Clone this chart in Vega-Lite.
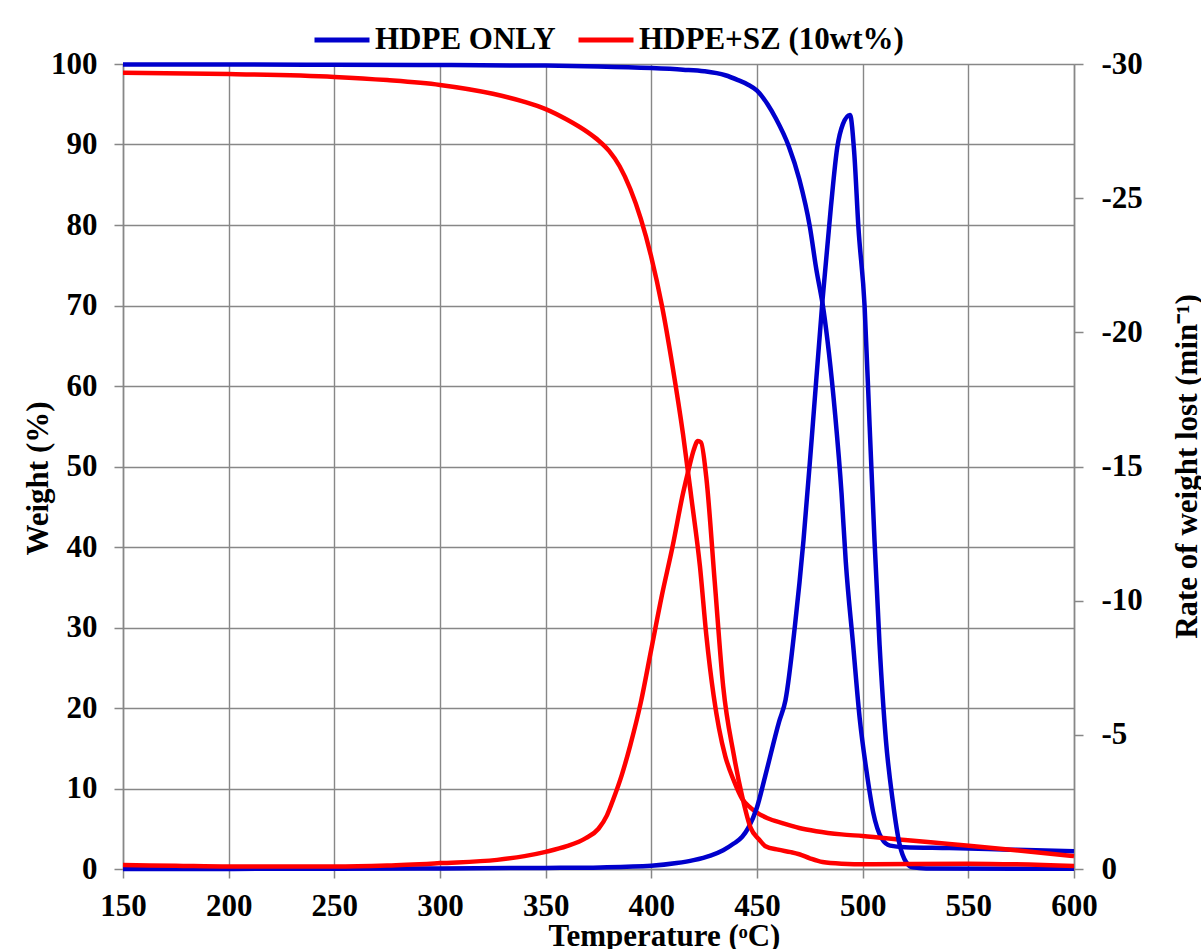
{
  "$schema": "https://vega.github.io/schema/vega-lite/v6.json",
  "width": 951,
  "height": 805,
  "autosize": "none",
  "padding": {"left": 123, "top": 64, "right": 127, "bottom": 80},
  "background": "white",
  "config": {
    "view": {"stroke": null},
    "font": "Liberation Serif",
    "axis": {
      "labelFont": "Liberation Serif", "labelFontWeight": "bold", "labelFontSize": 31, "labelColor": "#000000",
      "titleFont": "Liberation Serif", "titleFontWeight": "bold", "titleFontSize": 31, "titleColor": "#000000",
      "domainColor": "#878787", "domainWidth": 1.5, "tickColor": "#878787", "tickWidth": 1.5, "tickSize": 9,
      "gridColor": "#878787", "gridWidth": 1.4, "gridOpacity": 1
    }
  },
  "datasets": {
    "curves": [
      {"series": "HDPE ONLY", "curve": "weight", "T": 150, "v": 99.95},
      {"series": "HDPE ONLY", "curve": "weight", "T": 200, "v": 99.93},
      {"series": "HDPE ONLY", "curve": "weight", "T": 250, "v": 99.9},
      {"series": "HDPE ONLY", "curve": "weight", "T": 300, "v": 99.87},
      {"series": "HDPE ONLY", "curve": "weight", "T": 350, "v": 99.8},
      {"series": "HDPE ONLY", "curve": "weight", "T": 375, "v": 99.7},
      {"series": "HDPE ONLY", "curve": "weight", "T": 400, "v": 99.5},
      {"series": "HDPE ONLY", "curve": "weight", "T": 415, "v": 99.3},
      {"series": "HDPE ONLY", "curve": "weight", "T": 425, "v": 99.1},
      {"series": "HDPE ONLY", "curve": "weight", "T": 435, "v": 98.6},
      {"series": "HDPE ONLY", "curve": "weight", "T": 441, "v": 98.0},
      {"series": "HDPE ONLY", "curve": "weight", "T": 446, "v": 97.4},
      {"series": "HDPE ONLY", "curve": "weight", "T": 450, "v": 96.7},
      {"series": "HDPE ONLY", "curve": "weight", "T": 455, "v": 95.0},
      {"series": "HDPE ONLY", "curve": "weight", "T": 459, "v": 93.2},
      {"series": "HDPE ONLY", "curve": "weight", "T": 465, "v": 89.8},
      {"series": "HDPE ONLY", "curve": "weight", "T": 470, "v": 85.7},
      {"series": "HDPE ONLY", "curve": "weight", "T": 475, "v": 79.8},
      {"series": "HDPE ONLY", "curve": "weight", "T": 478, "v": 74.6},
      {"series": "HDPE ONLY", "curve": "weight", "T": 481.5, "v": 69.4},
      {"series": "HDPE ONLY", "curve": "weight", "T": 484, "v": 64.2},
      {"series": "HDPE ONLY", "curve": "weight", "T": 487, "v": 56.4},
      {"series": "HDPE ONLY", "curve": "weight", "T": 490, "v": 46.7},
      {"series": "HDPE ONLY", "curve": "weight", "T": 492, "v": 38.2},
      {"series": "HDPE ONLY", "curve": "weight", "T": 495.5, "v": 27.8},
      {"series": "HDPE ONLY", "curve": "weight", "T": 498.6, "v": 18.7},
      {"series": "HDPE ONLY", "curve": "weight", "T": 501.8, "v": 12.2},
      {"series": "HDPE ONLY", "curve": "weight", "T": 505, "v": 7.0},
      {"series": "HDPE ONLY", "curve": "weight", "T": 509, "v": 3.8},
      {"series": "HDPE ONLY", "curve": "weight", "T": 513, "v": 2.9},
      {"series": "HDPE ONLY", "curve": "weight", "T": 520, "v": 2.7},
      {"series": "HDPE ONLY", "curve": "weight", "T": 541, "v": 2.6},
      {"series": "HDPE ONLY", "curve": "weight", "T": 570, "v": 2.4},
      {"series": "HDPE ONLY", "curve": "weight", "T": 600, "v": 2.2},

      {"series": "HDPE ONLY", "curve": "rate", "T": 150, "v": 0},
      {"series": "HDPE ONLY", "curve": "rate", "T": 250, "v": -0.01},
      {"series": "HDPE ONLY", "curve": "rate", "T": 300, "v": -0.02},
      {"series": "HDPE ONLY", "curve": "rate", "T": 350, "v": -0.04},
      {"series": "HDPE ONLY", "curve": "rate", "T": 376, "v": -0.06},
      {"series": "HDPE ONLY", "curve": "rate", "T": 400, "v": -0.12},
      {"series": "HDPE ONLY", "curve": "rate", "T": 412, "v": -0.22},
      {"series": "HDPE ONLY", "curve": "rate", "T": 420, "v": -0.33},
      {"series": "HDPE ONLY", "curve": "rate", "T": 428, "v": -0.5},
      {"series": "HDPE ONLY", "curve": "rate", "T": 434, "v": -0.7},
      {"series": "HDPE ONLY", "curve": "rate", "T": 439, "v": -0.95},
      {"series": "HDPE ONLY", "curve": "rate", "T": 443, "v": -1.2},
      {"series": "HDPE ONLY", "curve": "rate", "T": 446, "v": -1.55},
      {"series": "HDPE ONLY", "curve": "rate", "T": 450, "v": -2.3},
      {"series": "HDPE ONLY", "curve": "rate", "T": 454, "v": -3.5},
      {"series": "HDPE ONLY", "curve": "rate", "T": 460.5, "v": -5.5},
      {"series": "HDPE ONLY", "curve": "rate", "T": 463.5, "v": -6.3},
      {"series": "HDPE ONLY", "curve": "rate", "T": 468, "v": -9.1},
      {"series": "HDPE ONLY", "curve": "rate", "T": 472, "v": -12.25},
      {"series": "HDPE ONLY", "curve": "rate", "T": 476, "v": -16.15},
      {"series": "HDPE ONLY", "curve": "rate", "T": 481, "v": -21.2},
      {"series": "HDPE ONLY", "curve": "rate", "T": 485, "v": -24.7},
      {"series": "HDPE ONLY", "curve": "rate", "T": 488, "v": -26.9},
      {"series": "HDPE ONLY", "curve": "rate", "T": 490.6, "v": -27.75},
      {"series": "HDPE ONLY", "curve": "rate", "T": 494, "v": -28.1},
      {"series": "HDPE ONLY", "curve": "rate", "T": 496, "v": -26.7},
      {"series": "HDPE ONLY", "curve": "rate", "T": 498, "v": -23.9},
      {"series": "HDPE ONLY", "curve": "rate", "T": 500.9, "v": -21.0},
      {"series": "HDPE ONLY", "curve": "rate", "T": 503.3, "v": -16.5},
      {"series": "HDPE ONLY", "curve": "rate", "T": 505.6, "v": -12.25},
      {"series": "HDPE ONLY", "curve": "rate", "T": 508, "v": -8.35},
      {"series": "HDPE ONLY", "curve": "rate", "T": 511, "v": -4.8},
      {"series": "HDPE ONLY", "curve": "rate", "T": 514.3, "v": -2.5},
      {"series": "HDPE ONLY", "curve": "rate", "T": 517.4, "v": -0.94},
      {"series": "HDPE ONLY", "curve": "rate", "T": 520.6, "v": -0.25},
      {"series": "HDPE ONLY", "curve": "rate", "T": 523.7, "v": -0.06},
      {"series": "HDPE ONLY", "curve": "rate", "T": 530, "v": -0.02},
      {"series": "HDPE ONLY", "curve": "rate", "T": 600, "v": -0.01},

      {"series": "HDPE+SZ (10wt%)", "curve": "weight", "T": 150, "v": 98.9},
      {"series": "HDPE+SZ (10wt%)", "curve": "weight", "T": 200, "v": 98.75},
      {"series": "HDPE+SZ (10wt%)", "curve": "weight", "T": 250, "v": 98.4},
      {"series": "HDPE+SZ (10wt%)", "curve": "weight", "T": 275, "v": 98.0},
      {"series": "HDPE+SZ (10wt%)", "curve": "weight", "T": 300, "v": 97.4},
      {"series": "HDPE+SZ (10wt%)", "curve": "weight", "T": 325, "v": 96.3},
      {"series": "HDPE+SZ (10wt%)", "curve": "weight", "T": 340, "v": 95.3},
      {"series": "HDPE+SZ (10wt%)", "curve": "weight", "T": 350, "v": 94.4},
      {"series": "HDPE+SZ (10wt%)", "curve": "weight", "T": 360, "v": 93.1},
      {"series": "HDPE+SZ (10wt%)", "curve": "weight", "T": 370, "v": 91.5},
      {"series": "HDPE+SZ (10wt%)", "curve": "weight", "T": 375, "v": 90.5},
      {"series": "HDPE+SZ (10wt%)", "curve": "weight", "T": 380, "v": 89.2},
      {"series": "HDPE+SZ (10wt%)", "curve": "weight", "T": 385, "v": 87.3},
      {"series": "HDPE+SZ (10wt%)", "curve": "weight", "T": 390, "v": 84.5},
      {"series": "HDPE+SZ (10wt%)", "curve": "weight", "T": 395, "v": 80.8},
      {"series": "HDPE+SZ (10wt%)", "curve": "weight", "T": 400, "v": 76},
      {"series": "HDPE+SZ (10wt%)", "curve": "weight", "T": 405, "v": 70},
      {"series": "HDPE+SZ (10wt%)", "curve": "weight", "T": 410, "v": 62.5},
      {"series": "HDPE+SZ (10wt%)", "curve": "weight", "T": 415, "v": 54},
      {"series": "HDPE+SZ (10wt%)", "curve": "weight", "T": 419, "v": 46},
      {"series": "HDPE+SZ (10wt%)", "curve": "weight", "T": 423, "v": 37.6},
      {"series": "HDPE+SZ (10wt%)", "curve": "weight", "T": 426, "v": 29.1},
      {"series": "HDPE+SZ (10wt%)", "curve": "weight", "T": 429.5, "v": 21.5},
      {"series": "HDPE+SZ (10wt%)", "curve": "weight", "T": 432, "v": 17.5},
      {"series": "HDPE+SZ (10wt%)", "curve": "weight", "T": 435, "v": 14.0},
      {"series": "HDPE+SZ (10wt%)", "curve": "weight", "T": 439, "v": 11.0},
      {"series": "HDPE+SZ (10wt%)", "curve": "weight", "T": 443, "v": 8.7},
      {"series": "HDPE+SZ (10wt%)", "curve": "weight", "T": 447, "v": 7.6},
      {"series": "HDPE+SZ (10wt%)", "curve": "weight", "T": 450, "v": 7.0},
      {"series": "HDPE+SZ (10wt%)", "curve": "weight", "T": 455, "v": 6.3},
      {"series": "HDPE+SZ (10wt%)", "curve": "weight", "T": 462, "v": 5.7},
      {"series": "HDPE+SZ (10wt%)", "curve": "weight", "T": 470, "v": 5.1},
      {"series": "HDPE+SZ (10wt%)", "curve": "weight", "T": 478, "v": 4.7},
      {"series": "HDPE+SZ (10wt%)", "curve": "weight", "T": 490, "v": 4.3},
      {"series": "HDPE+SZ (10wt%)", "curve": "weight", "T": 500, "v": 4.1},
      {"series": "HDPE+SZ (10wt%)", "curve": "weight", "T": 520, "v": 3.6},
      {"series": "HDPE+SZ (10wt%)", "curve": "weight", "T": 541, "v": 3.1},
      {"series": "HDPE+SZ (10wt%)", "curve": "weight", "T": 570, "v": 2.4},
      {"series": "HDPE+SZ (10wt%)", "curve": "weight", "T": 600, "v": 1.6},

      {"series": "HDPE+SZ (10wt%)", "curve": "rate", "T": 150, "v": -0.15},
      {"series": "HDPE+SZ (10wt%)", "curve": "rate", "T": 175, "v": -0.12},
      {"series": "HDPE+SZ (10wt%)", "curve": "rate", "T": 200, "v": -0.09},
      {"series": "HDPE+SZ (10wt%)", "curve": "rate", "T": 250, "v": -0.09},
      {"series": "HDPE+SZ (10wt%)", "curve": "rate", "T": 275, "v": -0.13},
      {"series": "HDPE+SZ (10wt%)", "curve": "rate", "T": 300, "v": -0.22},
      {"series": "HDPE+SZ (10wt%)", "curve": "rate", "T": 327, "v": -0.34},
      {"series": "HDPE+SZ (10wt%)", "curve": "rate", "T": 340, "v": -0.48},
      {"series": "HDPE+SZ (10wt%)", "curve": "rate", "T": 350, "v": -0.64},
      {"series": "HDPE+SZ (10wt%)", "curve": "rate", "T": 360, "v": -0.85},
      {"series": "HDPE+SZ (10wt%)", "curve": "rate", "T": 369, "v": -1.15},
      {"series": "HDPE+SZ (10wt%)", "curve": "rate", "T": 375, "v": -1.5},
      {"series": "HDPE+SZ (10wt%)", "curve": "rate", "T": 379, "v": -2.0},
      {"series": "HDPE+SZ (10wt%)", "curve": "rate", "T": 382, "v": -2.6},
      {"series": "HDPE+SZ (10wt%)", "curve": "rate", "T": 386, "v": -3.5},
      {"series": "HDPE+SZ (10wt%)", "curve": "rate", "T": 390, "v": -4.6},
      {"series": "HDPE+SZ (10wt%)", "curve": "rate", "T": 395, "v": -6.2},
      {"series": "HDPE+SZ (10wt%)", "curve": "rate", "T": 400, "v": -8.2},
      {"series": "HDPE+SZ (10wt%)", "curve": "rate", "T": 405, "v": -10.2},
      {"series": "HDPE+SZ (10wt%)", "curve": "rate", "T": 410, "v": -12.0},
      {"series": "HDPE+SZ (10wt%)", "curve": "rate", "T": 415, "v": -14.0},
      {"series": "HDPE+SZ (10wt%)", "curve": "rate", "T": 418, "v": -15.0},
      {"series": "HDPE+SZ (10wt%)", "curve": "rate", "T": 420, "v": -15.6},
      {"series": "HDPE+SZ (10wt%)", "curve": "rate", "T": 422, "v": -15.95},
      {"series": "HDPE+SZ (10wt%)", "curve": "rate", "T": 423.5, "v": -15.9},
      {"series": "HDPE+SZ (10wt%)", "curve": "rate", "T": 426, "v": -14.6},
      {"series": "HDPE+SZ (10wt%)", "curve": "rate", "T": 430, "v": -10.7},
      {"series": "HDPE+SZ (10wt%)", "curve": "rate", "T": 434, "v": -6.8},
      {"series": "HDPE+SZ (10wt%)", "curve": "rate", "T": 439, "v": -4.26},
      {"series": "HDPE+SZ (10wt%)", "curve": "rate", "T": 443, "v": -2.7},
      {"series": "HDPE+SZ (10wt%)", "curve": "rate", "T": 447, "v": -1.53},
      {"series": "HDPE+SZ (10wt%)", "curve": "rate", "T": 451, "v": -1.1},
      {"series": "HDPE+SZ (10wt%)", "curve": "rate", "T": 454, "v": -0.85},
      {"series": "HDPE+SZ (10wt%)", "curve": "rate", "T": 460, "v": -0.72},
      {"series": "HDPE+SZ (10wt%)", "curve": "rate", "T": 466, "v": -0.63},
      {"series": "HDPE+SZ (10wt%)", "curve": "rate", "T": 470, "v": -0.55},
      {"series": "HDPE+SZ (10wt%)", "curve": "rate", "T": 475, "v": -0.4},
      {"series": "HDPE+SZ (10wt%)", "curve": "rate", "T": 481, "v": -0.26},
      {"series": "HDPE+SZ (10wt%)", "curve": "rate", "T": 490, "v": -0.2},
      {"series": "HDPE+SZ (10wt%)", "curve": "rate", "T": 502, "v": -0.18},
      {"series": "HDPE+SZ (10wt%)", "curve": "rate", "T": 550, "v": -0.2},
      {"series": "HDPE+SZ (10wt%)", "curve": "rate", "T": 600, "v": -0.11}
    ]
  },
  "data": {"name": "curves"},
  "encoding": {
    "x": {
      "field": "T", "type": "quantitative",
      "scale": {"domain": [150, 600], "nice": false, "zero": false},
      "axis": {
        "values": [150, 200, 250, 300, 350, 400, 450, 500, 550, 600],
        "grid": true, "labelPadding": 13, "labelFlush": false,
        "title": "Temperature (ᵒC)", "titleBaseline": "alphabetic", "titleAlign": "center",
        "titleX": 541, "titleY": 76
      }
    },
    "color": {
      "field": "series", "type": "nominal",
      "scale": {"domain": ["HDPE ONLY", "HDPE+SZ (10wt%)"], "range": ["#0000CC", "#FF0000"]},
      "legend": {
        "title": null, "orient": "none", "direction": "horizontal",
        "legendX": 189, "legendY": -54, "padding": 0,
        "symbolType": "stroke", "symbolSize": 3025, "symbolStrokeWidth": 5,
        "labelFont": "Liberation Serif", "labelFontWeight": "bold", "labelFontSize": 31,
        "labelColor": "#000000", "labelOffset": 3, "columnPadding": 12, "labelLimit": 400
      }
    }
  },
  "layer": [
    {
      "transform": [{"filter": "datum.curve === 'weight'"}],
      "mark": {"type": "line", "strokeWidth": 4.5, "interpolate": "monotone"},
      "encoding": {
        "y": {
          "field": "v", "type": "quantitative",
          "scale": {"domain": [0, 100], "nice": false},
          "axis": {
            "values": [0, 10, 20, 30, 40, 50, 60, 70, 80, 90, 100],
            "grid": true, "labelPadding": 17, "labelFlush": false,
            "title": "Weight (%)", "titleAngle": 270, "titleBaseline": "alphabetic", "titleAlign": "center",
            "titleX": -76, "titleY": 414
          }
        }
      }
    },
    {
      "transform": [{"filter": "datum.curve === 'rate'"}],
      "mark": {"type": "line", "strokeWidth": 4.5, "interpolate": "monotone"},
      "encoding": {
        "y": {
          "field": "v", "type": "quantitative",
          "scale": {"domain": [-30, 0], "reverse": true, "nice": false, "zero": false},
          "axis": {
            "orient": "right",
            "values": [0, -5, -10, -15, -20, -25, -30],
            "labelExpr": "'' + datum.value",
            "grid": false, "labelPadding": 18, "labelFlush": false,
            "title": "Rate of weight lost (min⁻¹)", "titleAngle": 270, "titleBaseline": "alphabetic", "titleAlign": "center",
            "titleX": 122, "titleY": 402
          }
        }
      }
    }
  ],
  "resolve": {"scale": {"y": "independent"}}
}
